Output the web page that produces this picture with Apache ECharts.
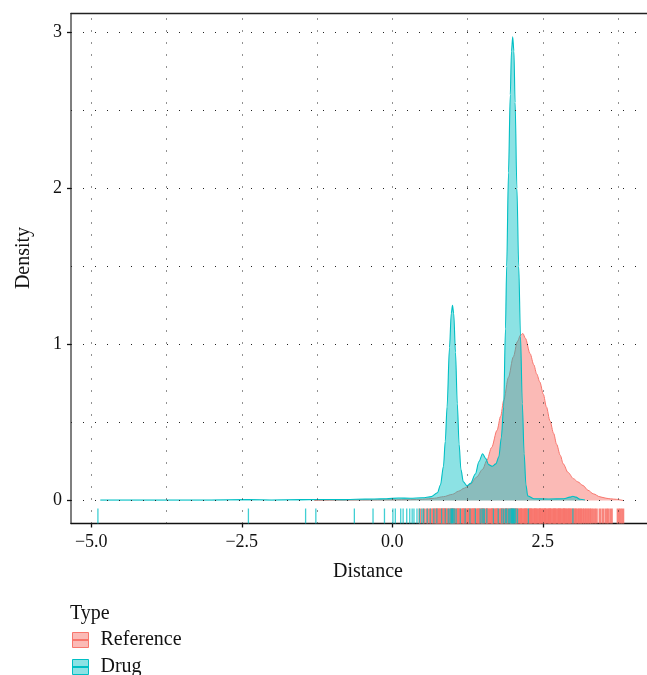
<!DOCTYPE html>
<html>
<head>
<meta charset="utf-8">
<script src="https://cdn.jsdelivr.net/npm/echarts@6/dist/echarts.min.js"></script>
<style>
  html, body { margin: 0; padding: 0; background: #fff; }
  #chart { width: 647px; height: 675px; }
</style>
</head>
<body>
<div id="chart"></div>
<script>
// tick positions
var xTicks = [-5, -2.5, 0, 2.5];
var yTicks = [0, 1, 2, 3];
var xGrid = [-5, -3.75, -2.5, -1.25, 0, 1.25, 2.5, 3.75];
var yGrid = [0, 0.5, 1, 1.5, 2, 2.5, 3];

// density curves [distance, density]
var refDensity = [
  [-1.3, 0], [-1.0, 0.003], [-0.5, 0.004], [0.0, 0.005], [0.3, 0.006], [0.5, 0.008],
  [0.7, 0.015], [0.85, 0.025], [1.0, 0.04], [1.1, 0.06], [1.2, 0.08], [1.3, 0.105],
  [1.4, 0.15], [1.5, 0.2], [1.57, 0.256], [1.65, 0.34], [1.74, 0.45], [1.8, 0.54],
  [1.85, 0.64], [1.93, 0.79], [2.01, 0.92], [2.08, 1.02], [2.13, 1.06], [2.17, 1.07],
  [2.21, 1.04], [2.29, 0.94], [2.35, 0.87], [2.4, 0.81], [2.45, 0.76], [2.51, 0.68],
  [2.56, 0.6], [2.62, 0.51], [2.68, 0.43], [2.73, 0.36], [2.79, 0.29], [2.84, 0.235],
  [2.92, 0.18], [3.01, 0.14], [3.08, 0.12], [3.17, 0.096], [3.25, 0.066], [3.34, 0.043],
  [3.45, 0.024], [3.55, 0.015], [3.62, 0.011], [3.72, 0.008], [3.84, 0]
];
var drugDensity = [
  [-4.85, 0.004], [-4.0, 0.004], [-3.0, 0.004], [-2.4, 0.006], [-2.0, 0.004], [-1.5, 0.006],
  [-1.25, 0.007], [-0.8, 0.006], [-0.6, 0.008], [-0.3, 0.01], [-0.1, 0.012], [0.1, 0.016],
  [0.3, 0.015], [0.5, 0.018], [0.65, 0.025], [0.75, 0.05], [0.8, 0.1], [0.85, 0.22],
  [0.88, 0.38], [0.91, 0.6], [0.95, 0.98], [0.98, 1.2], [1.0, 1.25], [1.02, 1.2],
  [1.05, 0.95], [1.08, 0.62], [1.11, 0.36], [1.14, 0.2], [1.18, 0.12], [1.24, 0.095],
  [1.3, 0.11], [1.38, 0.17], [1.44, 0.25], [1.5, 0.3], [1.55, 0.27], [1.6, 0.23],
  [1.66, 0.22], [1.72, 0.235], [1.77, 0.28], [1.81, 0.4], [1.85, 0.6], [1.88, 1.1],
  [1.9, 1.5], [1.93, 2.1], [1.96, 2.6], [1.98, 2.88], [2.0, 2.97], [2.02, 2.88],
  [2.04, 2.55], [2.07, 2.0], [2.1, 1.5], [2.13, 1.05], [2.16, 0.62], [2.19, 0.3],
  [2.22, 0.1], [2.25, 0.03], [2.35, 0.012], [2.6, 0.01], [2.85, 0.012], [2.95, 0.022],
  [3.0, 0.028], [3.05, 0.022], [3.12, 0.008], [3.2, 0.003]
];

// rug (individual observations)
var refRug = [
  0.46, 0.52, 0.57, 0.61, 0.65, 0.68, 0.71, 0.73, 0.75, 0.77, 0.79, 0.81, 0.83, 0.85, 0.86,
  0.88, 0.9, 0.92, 0.95, 0.97, 0.99, 1.01, 1.02, 1.04, 1.07, 1.09, 1.1, 1.12, 1.15, 1.17,
  1.19, 1.2, 1.23, 1.25, 1.27, 1.28, 1.31, 1.33, 1.35, 1.36, 1.38, 1.41, 1.43, 1.44, 1.47,
  1.49, 1.5, 1.52, 1.55, 1.57, 1.58, 1.6, 1.63, 1.65, 1.66, 1.68, 1.71, 1.73, 1.74, 1.76,
  1.79, 1.81, 1.82, 1.84, 1.87, 1.89, 1.9, 1.92, 1.95, 1.97, 1.98, 2.0, 2.03, 2.05, 2.06,
  2.08, 2.11, 2.13, 2.14, 2.16, 2.19, 2.21, 2.22, 2.24, 2.27, 2.29, 2.3, 2.32, 2.35, 2.37,
  2.38, 2.4, 2.43, 2.45, 2.46, 2.48, 2.51, 2.53, 2.54, 2.56, 2.59, 2.61, 2.62, 2.64, 2.67,
  2.69, 2.7, 2.72, 2.75, 2.77, 2.78, 2.8, 2.83, 2.85, 2.86, 2.88, 2.91, 2.93, 2.95, 2.97,
  3.0, 3.03, 3.05, 3.08, 3.11, 3.13, 3.16, 3.19, 3.22, 3.25, 3.28, 3.31, 3.35, 3.39, 3.45,
  3.5, 3.55, 3.59, 3.64, 3.75, 3.79, 3.83
];
var drugRug = [
  -4.89, -2.39, -1.44, -1.27, -0.63, -0.32, -0.13, 0.01, 0.05, 0.14, 0.18, 0.24, 0.29, 0.33,
  0.36, 0.41, 0.45, 0.49, 0.52, 0.58, 0.63, 0.69, 0.74, 0.82, 0.88, 0.93, 0.96, 0.98, 0.99,
  1.0, 1.01, 1.03, 1.06, 1.13, 1.21, 1.29, 1.38, 1.46, 1.49, 1.51, 1.53, 1.57, 1.68, 1.76,
  1.82, 1.85, 1.88, 1.9, 1.93, 1.95, 1.97, 1.98, 1.99, 2.0, 2.01, 2.02, 2.03, 2.05, 2.08,
  2.26, 3.0
];

var refColor = '#F8766D';
var drugColor = '#00BFC4';
var serif = '"Liberation Serif", "DejaVu Serif", serif';

function rug(color, w) {
  return function (params, api) {
    var p = api.coord([api.value(0), 0]);
    var bottom = params.coordSys.y + params.coordSys.height;
    return {
      type: 'line',
      shape: { x1: p[0], y1: bottom - 15, x2: p[0], y2: bottom },
      style: { stroke: color, lineWidth: w }
    };
  };
}

var fmt = function (v) { return v.toFixed(1).replace('-', '\u2212'); };
var keyIcon = 'path://M0,0H16V15H0Z M0,7H16V8H0Z';

var chart = echarts.init(document.getElementById('chart'));
chart.setOption({
  animation: false,
  grid: { left: 71, top: 13.5, right: 0, bottom: 151.5 },
  xAxis: [{
    type: 'value', min: -5.337, max: 4.231,
    axisLine: { onZero: false, lineStyle: { color: '#111', width: 1.3 } },
    axisTick: { customValues: xTicks, length: 4, lineStyle: { color: '#111', width: 1.3 } },
    axisLabel: { customValues: xTicks, formatter: fmt, margin: 10, color: '#111', fontFamily: serif, fontSize: 18 },
    splitLine: { show: false }
  }, {
    type: 'value', position: 'top', min: -5.337, max: 4.231,
    axisLine: { show: true, onZero: false, lineStyle: { color: '#222', width: 1.3 } },
    axisTick: { show: false }, axisLabel: { show: false }, splitLine: { show: false }
  }],
  yAxis: {
    type: 'value', min: -0.147, max: 3.12,
    axisLine: { show: true, onZero: false, lineStyle: { color: '#555', width: 1.5 } },
    axisTick: { show: true, customValues: yTicks, length: 4, lineStyle: { color: '#111', width: 1.3 } },
    axisLabel: { customValues: yTicks, margin: 9, color: '#111', fontFamily: serif, fontSize: 18 },
    splitLine: { show: false }
  },
  legend: {
    left: 72, top: 630, height: 120, orient: 'vertical', padding: 0,
    itemWidth: 16, itemHeight: 15, itemGap: 7,
    textStyle: { fontFamily: serif, fontSize: 20, color: '#111', padding: [0, 0, 0, 7] },
    data: [
      { name: 'Reference', icon: keyIcon,
        itemStyle: { color: 'rgba(248,118,109,0.5)', borderColor: refColor, borderWidth: 1 } },
      { name: 'Drug', icon: keyIcon,
        itemStyle: { color: 'rgba(0,191,196,0.45)', borderColor: drugColor, borderWidth: 1 } }
    ]
  },
  graphic: [
    { type: 'text', x: 24, y: 258, rotation: Math.PI / 2,
      style: { text: 'Density', fontFamily: serif, fontSize: 20, fill: '#111', align: 'center', verticalAlign: 'middle' } },
    { type: 'text', x: 368, y: 572,
      style: { text: 'Distance', fontFamily: serif, fontSize: 20, fill: '#111', align: 'center', verticalAlign: 'middle' } },
    { type: 'text', x: 70, y: 614,
      style: { text: 'Type', fontFamily: serif, fontSize: 20, fill: '#111', align: 'left', verticalAlign: 'middle' } }
  ],
  series: [
    {
      name: 'grid', type: 'line', data: [], z: 1, silent: true,
      markLine: {
        silent: true, symbol: ['none', 'none'], label: { show: false },
        lineStyle: { color: '#222', type: [1, 11], width: 1 },
        data: xGrid.map(function (v) { return { xAxis: v }; })
          .concat(yGrid.map(function (v) { return { yAxis: v }; }))
      }
    },
    {
      name: 'Reference', type: 'line', data: refDensity, z: 2,
      smooth: 0.3, smoothMonotone: 'x', showSymbol: false, symbol: 'none',
      lineStyle: { color: refColor, width: 1 },
      itemStyle: { color: refColor },
      areaStyle: { color: 'rgba(248,118,109,0.5)', opacity: 1 }
    },
    {
      name: 'Drug', type: 'line', data: drugDensity, z: 3,
      smooth: 0.3, smoothMonotone: 'x', showSymbol: false, symbol: 'none',
      lineStyle: { color: drugColor, width: 1.1 },
      itemStyle: { color: drugColor },
      areaStyle: { color: 'rgba(0,191,196,0.45)', opacity: 1 }
    },
    {
      name: 'refRug', type: 'custom', z: 4, silent: true,
      renderItem: rug('rgba(248,118,109,0.9)', 2.8),
      data: refRug.map(function (v) { return [v, 0]; })
    },
    {
      name: 'drugRug', type: 'custom', z: 5, silent: true,
      renderItem: rug('rgba(0,191,196,0.75)', 1.3),
      data: drugRug.map(function (v) { return [v, 0]; })
    }
  ]
});
</script>
</body>
</html>
